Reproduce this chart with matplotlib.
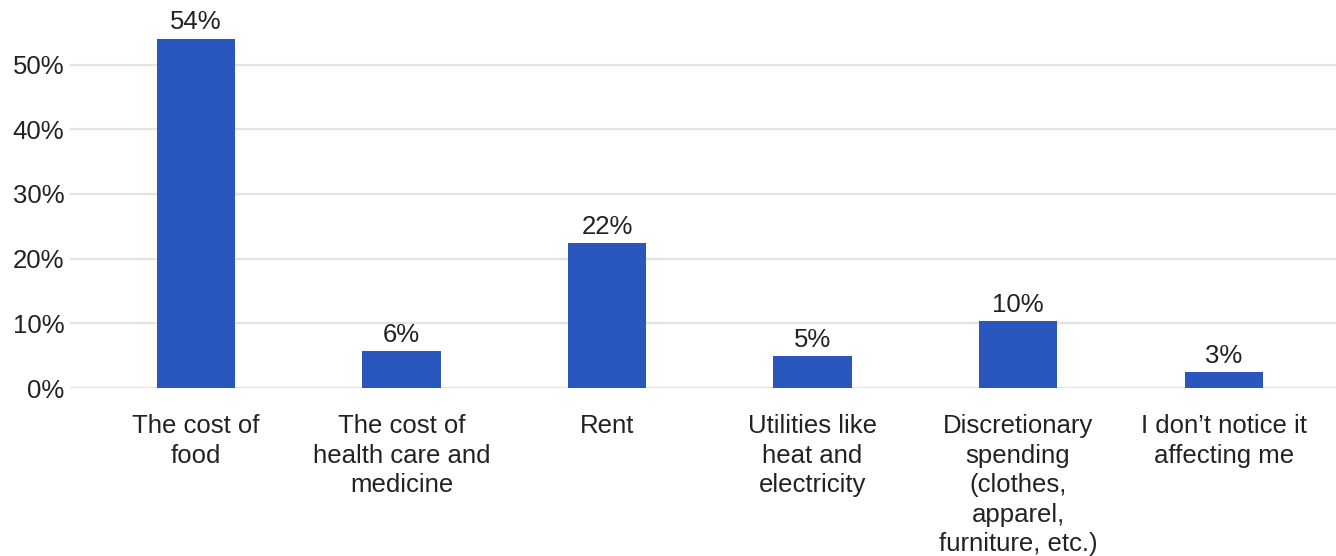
import matplotlib
matplotlib.use("Agg")
import matplotlib.pyplot as plt
import numpy as np

categories = [
    "The cost of\nfood",
    "The cost of\nhealth care and\nmedicine",
    "Rent",
    "Utilities like\nheat and\nelectricity",
    "Discretionary\nspending\n(clothes,\napparel,\nfurniture, etc.)",
    "I don\u2019t notice it\naffecting me",
]
values = [54.0, 5.7, 22.4, 4.9, 10.3, 2.5]
value_labels = ["54%", "6%", "22%", "5%", "10%", "3%"]
yticks = [0, 10, 20, 30, 40, 50]

plt.rcParams["font.family"] = ["Liberation Sans", "DejaVu Sans"]
text_color = "#222222"
bar_color = "#2957be"
fs = 18.5

fig = plt.figure(figsize=(13.36, 5.56), dpi=100)
ax = fig.add_axes([70 / 1336, (556 - 388) / 556, 1 - 70 / 1336, 388 / 556])

x = np.arange(len(categories))
bars = ax.bar(x, values, width=0.38, color=bar_color, zorder=3)

for b, lab in zip(bars, value_labels):
    ax.annotate(lab, (b.get_x() + b.get_width() / 2, b.get_height()),
                xytext=(0, 3), textcoords="offset points",
                ha="center", va="bottom", fontsize=fs, color=text_color,
                annotation_clip=False)

ax.set_xlim(-0.613, 5.547)
ax.set_ylim(0, 388 / 6.47)
ax.set_yticks(yticks)
ax.set_yticklabels([f"{t}%" for t in yticks])
ax.set_xticks(x)
ax.set_xticklabels(categories, linespacing=1.29)
ax.tick_params(axis="x", length=0, pad=19, labelsize=fs, labelcolor=text_color)
ax.tick_params(axis="y", length=0, pad=4, labelsize=fs, labelcolor=text_color)
for lab in ax.get_xticklabels():
    lab.set_va("top")
    lab.set_ha("center")

ax.grid(axis="y", color="#e3e3e3", linewidth=1.6, zorder=0)
for s in ax.spines.values():
    s.set_visible(False)

fig.savefig("out.png", dpi=100)
